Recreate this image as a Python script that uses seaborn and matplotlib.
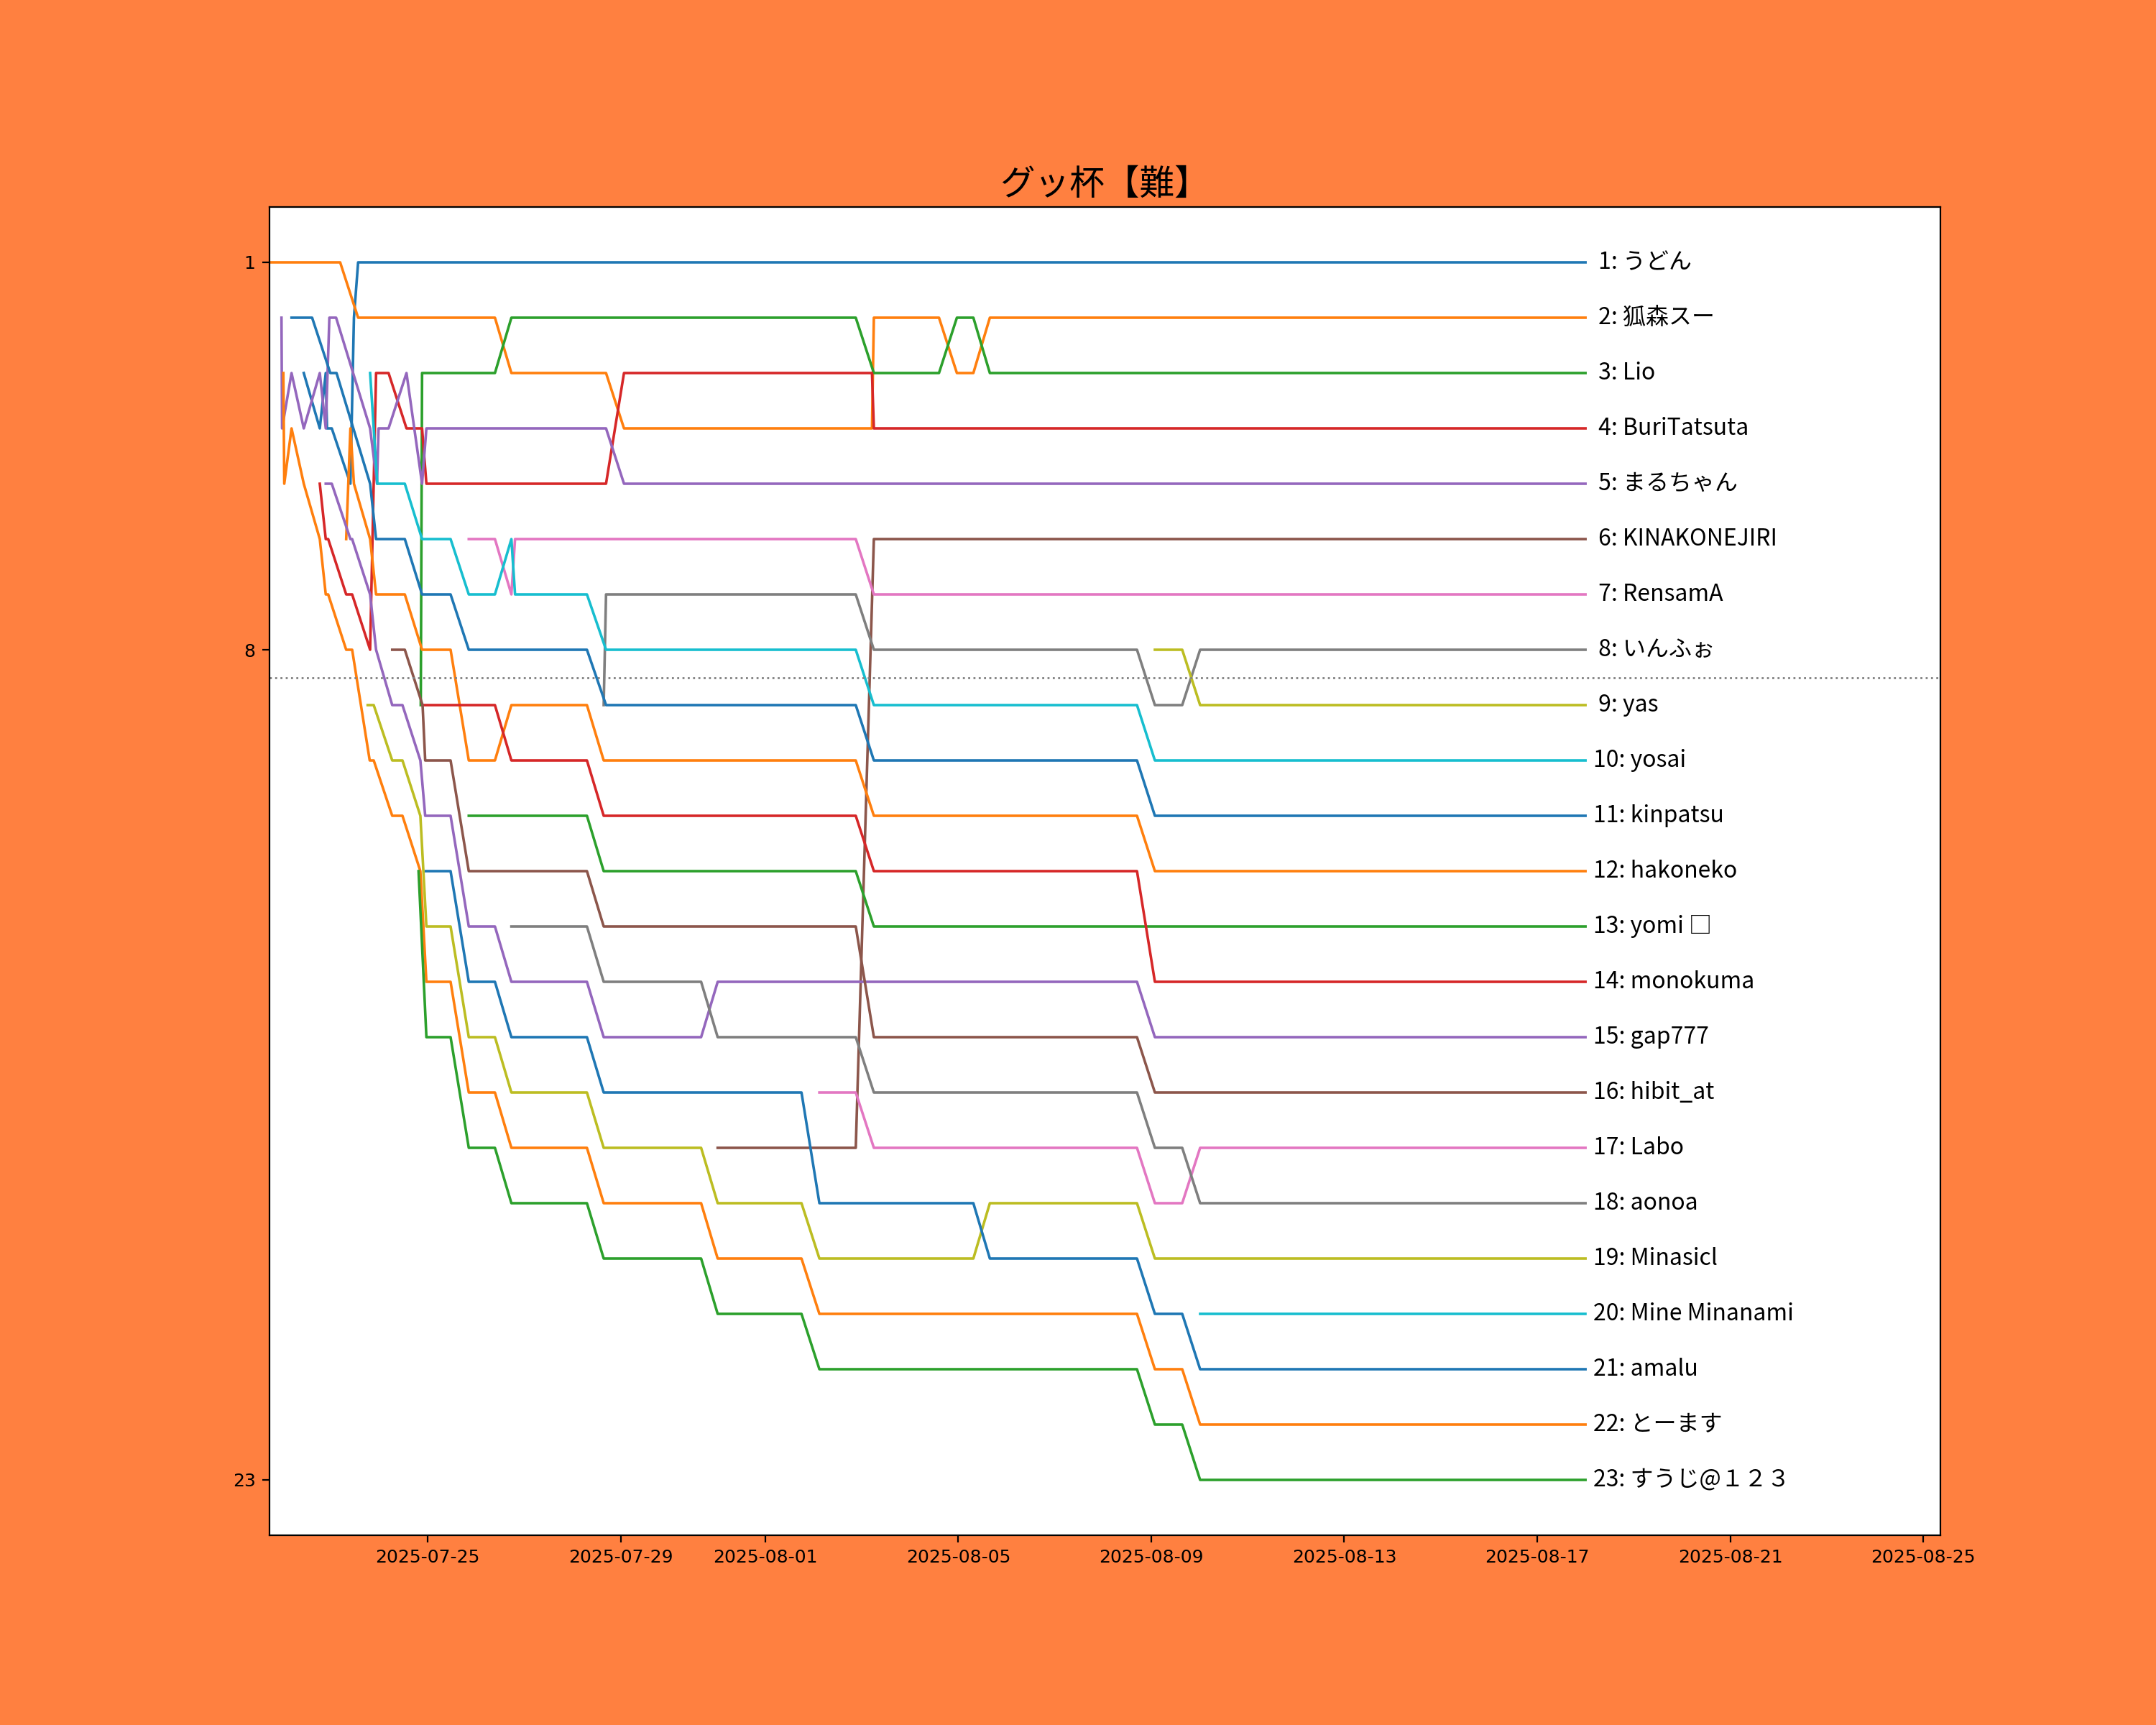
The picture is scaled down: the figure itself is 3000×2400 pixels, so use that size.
import matplotlib
matplotlib.use("Agg")
import matplotlib.pyplot as plt
import seaborn as sns
import pandas as pd

YEAR = "2025-"
JP_FONT = ["Noto Sans CJK JP", "DejaVu Sans"]

title = "グッ杯【難】"
names = ["うどん", "狐森スー", "Lio", "BuriTatsuta", "まるちゃん", "KINAKONEJIRI",
         "RensamA", "いんふぉ", "yas", "yosai", "kinpatsu", "hakoneko", "yomi □",
         "monokuma", "gap777", "hibit_at", "Labo", "aonoa", "Minasicl",
         "Mine Minanami", "amalu", "とーます", "すうじ@１２３"]

# (snapshot time, rank) at every point where a player's rank line bends
udon = [("07-22 10:24", 3), ("07-22 18:22", 4), ("07-22 21:20", 3), ("07-22 21:57", 4),
        ("07-23 00:20", 4), ("07-23 09:36", 5), ("07-23 11:21", 2), ("07-23 13:26", 1),
        ("08-18 00:00", 1)]
kitsune = [("07-21 17:21", 1), ("07-23 04:30", 1), ("07-23 13:26", 2), ("07-26 09:30", 2),
           ("07-26 17:41", 3), ("07-28 16:46", 3), ("07-29 01:42", 4), ("08-03 05:04", 4),
           ("08-03 06:00", 2), ("08-04 14:24", 2), ("08-04 23:18", 3), ("08-05 07:30", 3),
           ("08-05 15:42", 2), ("08-18 00:00", 2)]
lio = [("07-24 20:36", 9), ("07-24 21:15", 3), ("07-26 09:30", 3), ("07-26 17:41", 2),
       ("08-02 21:00", 2), ("08-03 06:00", 3), ("08-04 14:24", 3), ("08-04 23:18", 2),
       ("08-05 07:30", 2), ("08-05 15:42", 3), ("08-18 00:00", 3)]
buri = [("07-22 18:22", 5), ("07-22 21:20", 6), ("07-22 22:33", 6), ("07-23 07:30", 7),
        ("07-23 10:28", 7), ("07-23 19:24", 8), ("07-23 22:22", 3), ("07-24 04:35", 3),
        ("07-24 13:30", 4), ("07-24 21:15", 4), ("07-24 23:24", 5), ("07-28 16:46", 5),
        ("07-29 01:42", 3), ("08-03 05:04", 3), ("08-03 06:00", 4), ("08-18 00:00", 4)]
maru = [("07-21 23:19", 2), ("07-21 23:36", 4), ("07-22 04:19", 3), ("07-22 10:24", 4),
        ("07-22 18:22", 3), ("07-22 21:20", 4), ("07-22 23:08", 2), ("07-23 02:29", 2),
        ("07-23 19:24", 4), ("07-23 22:50", 5), ("07-23 23:36", 4), ("07-24 04:35", 4),
        ("07-24 13:30", 3), ("07-24 21:15", 5), ("07-24 23:24", 4), ("07-28 16:46", 4),
        ("07-29 01:42", 5), ("08-18 00:00", 5)]
kinako = [("07-31 00:18", 17), ("08-02 21:00", 17), ("08-03 06:00", 6), ("08-18 00:00", 6)]
rensam = [("07-25 20:29", 6), ("07-26 09:30", 6), ("07-26 17:41", 7), ("07-26 19:30", 6),
          ("08-02 21:00", 6), ("08-03 06:00", 7), ("08-18 00:00", 7)]
info = [("07-28 15:36", 9), ("07-28 16:46", 7), ("08-02 21:00", 7), ("08-03 06:00", 8),
        ("08-08 16:54", 8), ("08-09 01:48", 9), ("08-09 15:24", 9), ("08-10 00:18", 8),
        ("08-18 00:00", 8)]
yas = [("08-09 01:48", 8), ("08-09 15:24", 8), ("08-10 00:18", 9), ("08-18 00:00", 9)]
yosai = [("07-23 19:24", 3), ("07-23 23:00", 5), ("07-24 12:40", 5), ("07-24 21:15", 6),
         ("07-25 11:26", 6), ("07-25 20:29", 7), ("07-26 09:30", 7), ("07-26 17:41", 6),
         ("07-26 19:30", 7), ("07-28 07:16", 7), ("07-28 16:46", 8), ("08-02 21:00", 8),
         ("08-03 06:00", 9), ("08-08 16:54", 9), ("08-09 01:48", 10), ("08-18 00:00", 10)]
kinpatsu = [("07-22 04:19", 2), ("07-22 14:33", 2), ("07-22 23:35", 3), ("07-23 02:42", 3),
            ("07-23 19:24", 5), ("07-23 22:22", 6), ("07-24 12:40", 6), ("07-24 21:15", 7),
            ("07-25 11:26", 7), ("07-25 20:29", 8), ("07-28 07:16", 8), ("07-28 16:46", 9),
            ("08-02 21:00", 9), ("08-03 06:00", 10), ("08-08 16:54", 10), ("08-09 01:48", 11),
            ("08-18 00:00", 11)]
hakoneko = [("07-23 07:30", 6), ("07-23 09:36", 4), ("07-23 11:21", 5), ("07-23 19:24", 6),
            ("07-23 22:22", 7), ("07-24 12:40", 7), ("07-24 21:15", 8), ("07-25 11:26", 8),
            ("07-25 20:29", 10), ("07-26 09:30", 10), ("07-26 17:41", 9), ("07-28 07:16", 9),
            ("07-28 15:36", 10), ("08-02 21:00", 10), ("08-03 06:00", 11), ("08-08 16:54", 11),
            ("08-09 01:48", 12), ("08-18 00:00", 12)]
yomi = [("07-25 20:29", 11), ("07-28 07:16", 11), ("07-28 15:36", 12), ("08-02 21:00", 12),
        ("08-03 06:00", 13), ("08-18 00:00", 13)]
monokuma = [("07-24 21:30", 9), ("07-26 09:30", 9), ("07-26 17:41", 10), ("07-28 07:16", 10),
            ("07-28 15:36", 11), ("08-02 21:00", 11), ("08-03 06:00", 12), ("08-08 16:54", 12),
            ("08-09 01:48", 14), ("08-18 00:00", 14)]
gap = [("07-22 21:20", 5), ("07-23 00:20", 5), ("07-23 09:36", 6), ("07-23 10:28", 6),
       ("07-23 19:24", 7), ("07-23 22:22", 8), ("07-24 06:24", 9), ("07-24 11:30", 9),
       ("07-24 20:24", 10), ("07-24 22:48", 11), ("07-25 11:26", 11), ("07-25 20:29", 13),
       ("07-26 09:30", 13), ("07-26 17:41", 14), ("07-28 07:16", 14), ("07-28 15:36", 15),
       ("07-30 16:04", 15), ("07-31 00:18", 14), ("08-08 16:54", 14), ("08-09 01:48", 15),
       ("08-18 00:00", 15)]
hibit = [("07-24 06:24", 8), ("07-24 12:40", 8), ("07-24 21:30", 9), ("07-24 22:48", 10),
         ("07-25 11:26", 10), ("07-25 20:29", 12), ("07-28 07:16", 12), ("07-28 15:36", 13),
         ("08-02 21:00", 13), ("08-03 06:00", 15), ("08-08 16:54", 15), ("08-09 01:48", 16),
         ("08-18 00:00", 16)]
labo = [("08-02 02:54", 16), ("08-02 21:00", 16), ("08-03 06:00", 17), ("08-08 16:54", 17),
        ("08-09 01:48", 18), ("08-09 15:24", 18), ("08-10 00:18", 17), ("08-18 00:00", 17)]
aonoa = [("07-26 17:41", 13), ("07-28 07:16", 13), ("07-28 15:36", 14), ("07-30 16:04", 14),
         ("07-31 00:18", 15), ("08-02 21:00", 15), ("08-03 06:00", 16), ("08-08 16:54", 16),
         ("08-09 01:48", 17), ("08-09 15:24", 17), ("08-10 00:18", 18), ("08-18 00:00", 18)]
minasicl = [("07-23 18:12", 9), ("07-23 21:12", 9), ("07-24 06:24", 10), ("07-24 11:30", 10),
            ("07-24 20:24", 11), ("07-24 23:24", 13), ("07-25 11:26", 13), ("07-25 20:29", 15),
            ("07-26 09:30", 15), ("07-26 17:41", 16), ("07-28 07:16", 16), ("07-28 15:36", 17),
            ("07-30 16:04", 17), ("07-31 00:18", 18), ("08-01 18:00", 18), ("08-02 02:54", 19),
            ("08-05 07:30", 19), ("08-05 15:42", 18), ("08-08 16:54", 18), ("08-09 01:48", 19),
            ("08-18 00:00", 19)]
mine = [("08-10 00:18", 20), ("08-18 00:00", 20)]
amalu = [("07-24 23:12", 12), ("07-25 11:26", 12), ("07-25 20:29", 14), ("07-26 09:30", 14),
         ("07-26 17:41", 15), ("07-28 07:16", 15), ("07-28 15:36", 16), ("08-01 18:00", 16),
         ("08-02 02:54", 18), ("08-05 07:30", 18), ("08-05 15:42", 19), ("08-08 16:54", 19),
         ("08-09 01:48", 20), ("08-09 15:24", 20), ("08-10 00:18", 21), ("08-18 00:00", 21)]
tomasu = [("07-22 00:14", 3), ("07-22 00:42", 5), ("07-22 04:19", 4), ("07-22 10:24", 5),
          ("07-22 18:22", 6), ("07-22 21:20", 7), ("07-22 22:33", 7), ("07-23 07:30", 8),
          ("07-23 10:28", 8), ("07-23 19:12", 10), ("07-23 21:12", 10), ("07-24 06:24", 11),
          ("07-24 11:30", 11), ("07-24 20:24", 12), ("07-24 23:24", 14), ("07-25 11:26", 14),
          ("07-25 20:29", 16), ("07-26 09:30", 16), ("07-26 17:41", 17), ("07-28 07:16", 17),
          ("07-28 15:36", 18), ("07-30 16:04", 18), ("07-31 00:18", 19), ("08-01 18:00", 19),
          ("08-02 02:54", 20), ("08-08 16:54", 20), ("08-09 01:48", 21), ("08-09 15:24", 21),
          ("08-10 00:18", 22), ("08-18 00:00", 22)]
suuji = [("07-24 19:30", 12), ("07-24 23:24", 15), ("07-25 11:26", 15), ("07-25 20:29", 17),
         ("07-26 09:30", 17), ("07-26 17:41", 18), ("07-28 07:16", 18), ("07-28 15:36", 19),
         ("07-30 16:04", 19), ("07-31 00:18", 20), ("08-01 18:00", 20), ("08-02 02:54", 21),
         ("08-08 16:54", 21), ("08-09 01:48", 22), ("08-09 15:24", 22), ("08-10 00:18", 23),
         ("08-18 00:00", 23)]

tracks = [udon, kitsune, lio, buri, maru, kinako, rensam, info, yas, yosai, kinpatsu,
          hakoneko, yomi, monokuma, gap, hibit, labo, aonoa, minasicl, mine, amalu,
          tomasu, suuji]

cutoff_rank = 8.5
start_time = "2025-07-21 17:21"
end_time = "2025-08-25 08:34"

rows = []
for name, track in zip(names, tracks):
    for t, r in track:
        rows.append({"player": name, "time": pd.Timestamp(YEAR + t), "rank": r})
df = pd.DataFrame(rows)

tab10 = sns.color_palette("tab10")
colors = [tab10[i % 10] for i in range(len(names))]

fig, ax = plt.subplots(figsize=(15, 12), dpi=200)
fig.patch.set_facecolor("#ff8040")

sns.lineplot(data=df, x="time", y="rank", hue="player", hue_order=names,
             palette=colors, estimator=None, sort=False, legend=False,
             linewidth=1.3, ax=ax)

ax.axhline(cutoff_rank, color="gray", linestyle=":", linewidth=1.0)

# final ranking labels next to the line ends
for i, (name, track) in enumerate(zip(names, tracks)):
    t_last, r_last = track[-1]
    ax.text(pd.Timestamp(YEAR + t_last) + pd.Timedelta(hours=4), r_last,
            f"{i + 1:>2}: {name}", va="center", ha="left", fontsize=11.5,
            family=JP_FONT)

ax.set_xlim(pd.Timestamp(start_time), pd.Timestamp(end_time))
ax.set_ylim(24, 0)
ax.set_yticks([1, 8, 23])
ax.tick_params(labelsize=9)
ax.set_xlabel("")
ax.set_ylabel("")
ax.set_title(title, fontsize=17.5, family=JP_FONT)

fig.savefig("out.png", dpi=200, facecolor=fig.get_facecolor())
